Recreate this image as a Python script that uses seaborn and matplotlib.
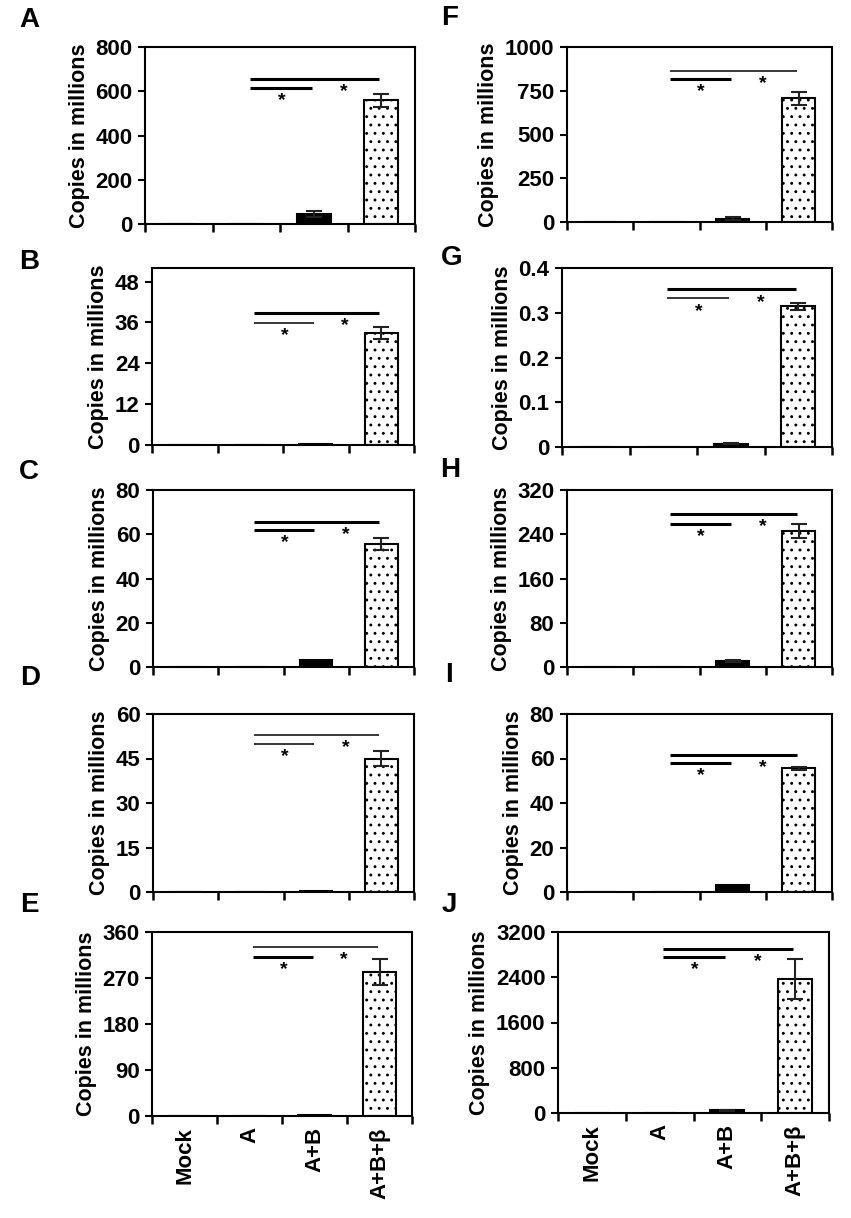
import numpy as np
import pandas as pd
import matplotlib
matplotlib.use("Agg")
import matplotlib.pyplot as plt
import seaborn as sns
from matplotlib.ticker import FuncFormatter

# ---------------- data ----------------
categories = ["Mock", "A", "A+B", "A+B+\u03b2"]
panel_letters = ["A", "B", "C", "D", "E", "F", "G", "H", "I", "J"]

values_A = [0, 0, 45, 560]
errors_A = [0, 0, 12, 29]
values_B = [0, 0, 0.3, 33]
errors_B = [0, 0, 0, 1.8]
values_C = [0, 0, 3.3, 55.6]
errors_C = [0, 0, 0, 2.7]
values_D = [0, 0, 0.5, 45]
errors_D = [0, 0, 0, 2.5]
values_E = [0, 0, 1, 282]
errors_E = [0, 0, 0, 25]
values_F = [0, 0, 20, 707]
errors_F = [0, 0, 6, 36]
values_G = [0, 0, 0.007, 0.314]
errors_G = [0, 0, 0.001, 0.007]
values_H = [0, 0, 11, 246]
errors_H = [0, 0, 2, 12]
values_I = [0, 0, 3.3, 55.6]
errors_I = [0, 0, 0, 0.7]
values_J = [0, 0, 45, 2370]
errors_J = [0, 0, 15, 360]

y_max = [800, 52, 80, 60, 360, 1000, 0.4, 320, 80, 3200]
y_step = [200, 12, 20, 15, 90, 250, 0.1, 80, 20, 800]
y_tick_top = [800, 48, 80, 60, 360, 1000, 0.4, 320, 80, 3200]

all_values = [values_A, values_B, values_C, values_D, values_E,
              values_F, values_G, values_H, values_I, values_J]
all_errors = [errors_A, errors_B, errors_C, errors_D, errors_E,
              errors_F, errors_G, errors_H, errors_I, errors_J]

# ---------------- layout / style ----------------
W, H = 851, 1218
# axes boxes in pixels: left, top, right, bottom
boxes = [
    (145, 47, 415, 224), (152, 268, 414, 445), (153, 490, 414, 667),
    (153, 714, 414, 892), (152, 932, 412, 1116),
    (567, 47, 832, 222), (562, 268, 832, 447), (567, 490, 832, 667),
    (567, 714, 832, 892), (558, 932, 829, 1113),
]
letter_pos = [(29, 20), (29, 262), (29, 472), (30, 678), (29, 905),
              (450, 18), (452, 258), (450, 470), (449, 675), (449, 905)]
# significance line heights (fraction of axes height): upper, lower
sig_upper = [0.82, 0.746, 0.82, 0.88, 0.92, 0.863, 0.88, 0.864, 0.77, 0.906]
sig_lower = [0.77, 0.69, 0.774, 0.83, 0.865, 0.817, 0.83, 0.81, 0.725, 0.86]
thick_upper = [True, True, True, False, False, False, True, True, True, True]
thick_lower = [True, False, True, False, True, True, False, True, True, True]

sns.set_theme(style="ticks")
plt.rcParams["font.family"] = ["Liberation Sans", "DejaVu Sans"]
plt.rcParams["font.weight"] = "bold"
plt.rcParams["hatch.linewidth"] = 0.9
for key in ["text.color", "axes.labelcolor", "xtick.color", "ytick.color",
            "axes.edgecolor", "hatch.color"]:
    plt.rcParams[key] = "black"

fig = plt.figure(figsize=(W / 100, H / 100), dpi=100)

bar_colors = ["white", "white", "black", "white"]
hatches = ["", "", "", ".."]

FS = 16

for i in range(10):
    l, t, r, b = boxes[i]
    ax = fig.add_axes([l / W, 1 - b / H, (r - l) / W, (b - t) / H])
    df = pd.DataFrame({"group": categories, "copies": all_values[i]})
    sns.barplot(data=df, x="group", y="copies", hue="group",
                palette=bar_colors, order=categories, hue_order=categories,
                width=0.5, edgecolor="black", linewidth=1.5,
                legend=False, ax=ax, errorbar=None)
    for patch, h in zip(ax.patches, hatches):
        patch.set_hatch(h)
    xs = np.arange(4)
    errs = np.array(all_errors[i])
    vals = np.array(all_values[i])
    mask = errs > 0
    ax.errorbar(xs[mask], vals[mask], yerr=errs[mask], fmt="none",
                ecolor="#222222", elinewidth=1.5, capsize=6, capthick=1.5)

    ax.set_xlim(-0.5, 3.5)
    ax.set_ylim(0, y_max[i])
    ax.set_yticks(np.arange(0, y_tick_top[i] + y_step[i] / 2, y_step[i]))
    ax.yaxis.set_major_formatter(FuncFormatter(lambda v, p: f"{v:g}"))
    ax.set_xticks(xs)
    ax.set_xticks(np.arange(-0.5, 4, 1.0), minor=True)
    ax.tick_params(axis="x", which="major", length=0, pad=8)
    ax.tick_params(axis="x", which="minor", length=6, width=1.8,
                   direction="out")
    ax.tick_params(axis="y", which="major", length=5, width=1.5,
                   labelsize=FS, pad=4)
    for sp in ax.spines.values():
        sp.set_linewidth(1.5)
        sp.set_color("black")
        sp.set_visible(True)
    if i in (4, 9):
        ax.set_xticklabels(categories, rotation=90, fontsize=FS,
                           fontweight="bold")
    else:
        ax.set_xticklabels([])
    ax.set_xlabel("")
    ax.set_ylabel("Copies in millions", fontsize=15.5, fontweight="bold",
                  labelpad=4)

    # significance brackets
    trans = ax.get_xaxis_transform()
    ax.plot([1.05, 2.97], [sig_upper[i]] * 2, color="black",
            lw=2.2 if thick_upper[i] else 1.1, transform=trans,
            solid_capstyle="butt", clip_on=False)
    ax.plot([1.05, 1.97], [sig_lower[i]] * 2, color="black",
            lw=2.2 if thick_lower[i] else 1.1, transform=trans,
            solid_capstyle="butt", clip_on=False)
    ax.annotate("*", xy=(1.52, sig_lower[i]), xycoords=trans,
                xytext=(0, -3), textcoords="offset points",
                ha="center", va="top", fontsize=14, fontweight="bold")
    ax.annotate("*", xy=(2.45, sig_upper[i]), xycoords=trans,
                xytext=(0, -3), textcoords="offset points",
                ha="center", va="top", fontsize=14, fontweight="bold")

    lx, ly = letter_pos[i]
    fig.text(lx / W, 1 - ly / H, panel_letters[i], fontsize=20,
             fontweight="bold", ha="center", va="center")

fig.savefig("out.png", dpi=100)
